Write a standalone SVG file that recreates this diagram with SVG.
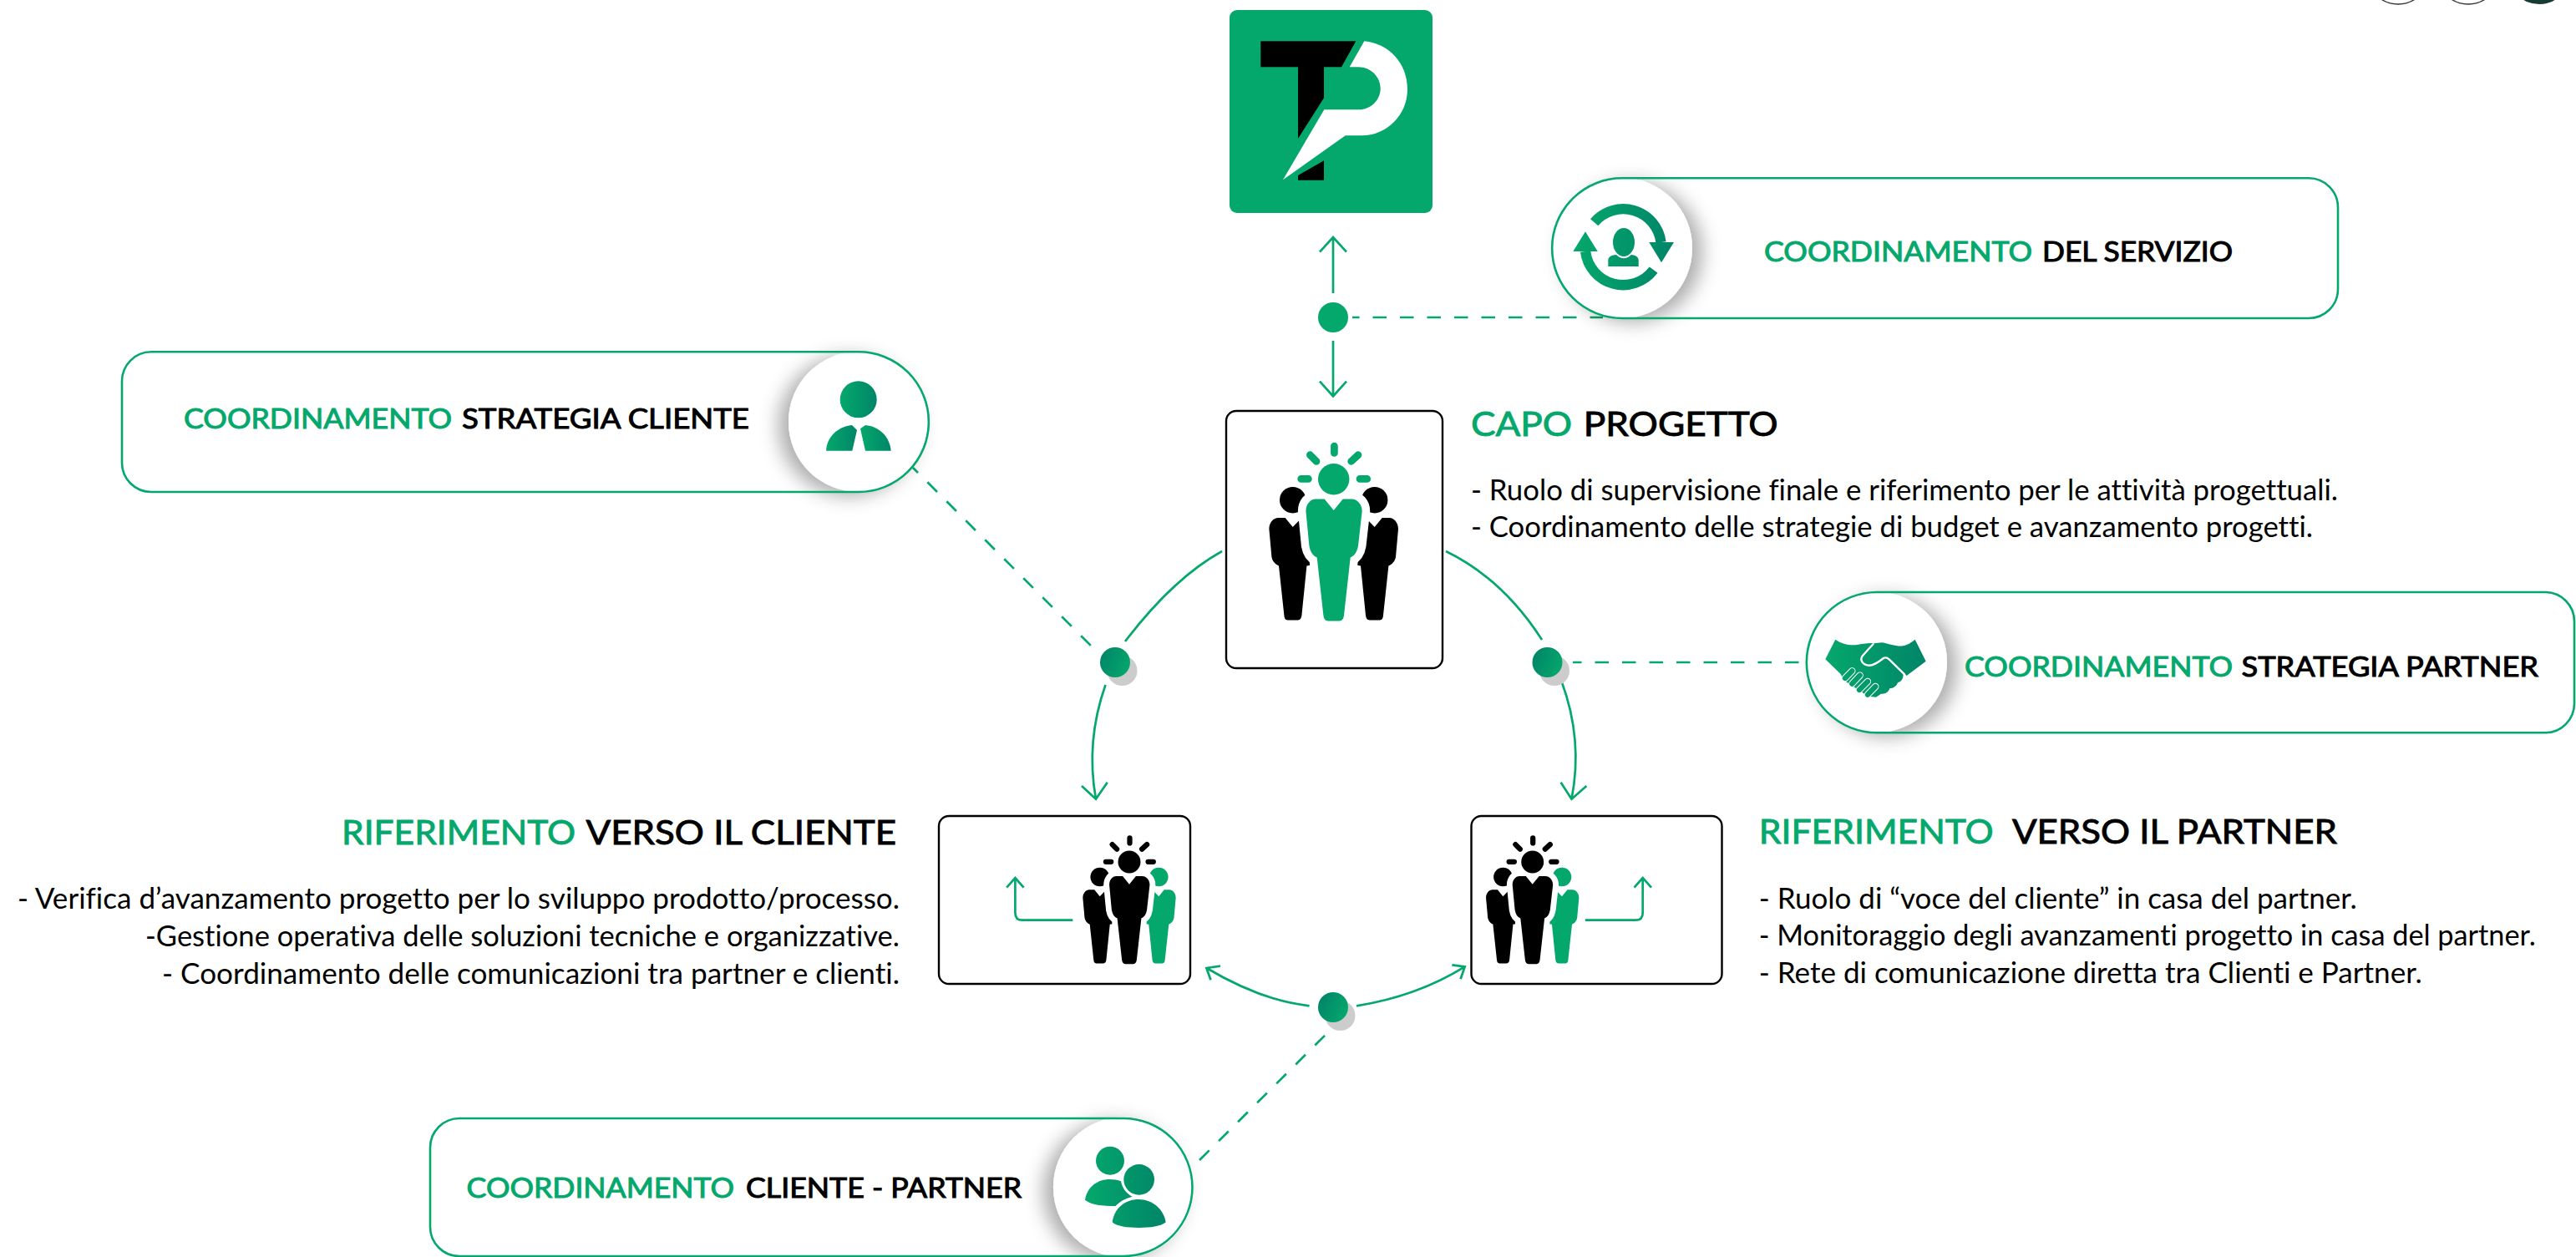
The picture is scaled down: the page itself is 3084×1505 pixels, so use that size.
<svg xmlns="http://www.w3.org/2000/svg" xmlns:xlink="http://www.w3.org/1999/xlink" width="3084" height="1505" viewBox="0 0 3084 1505">
<style>
text{font-family:"Lato","Noto Sans",sans-serif;fill:#000;font-variant-ligatures:none}
.g{fill:#05a86c}
.h{font-size:40px;font-weight:400;stroke-width:.9px;stroke:#000}
.h.g{stroke:#05a86c}
.l{font-size:32px;font-weight:400;stroke-width:1px;stroke:#000}
.l.g{stroke:#05a86c}
.b{font-size:35px;font-weight:400}
.box{fill:#fff;stroke:#000;stroke-width:2.4}
.pill{fill:none;stroke:#05a86c;stroke-width:2.6}
.disc{fill:#fff;filter:url(#sr)}
.discl{fill:#fff;filter:url(#sl)}
.c{fill:none;stroke:#05a86c;stroke-width:2.7}
.d{fill:none;stroke:#05a86c;stroke-width:2.7;stroke-dasharray:16.5 16}
.dot{fill:url(#dg)}
.sh{fill:#ccc}
.tc{fill:none;stroke:#333;stroke-width:1.4}
</style>
<defs>
<linearGradient id="dg" x1="0" y1=".3" x2="1" y2=".7"><stop offset="0" stop-color="#008568"/><stop offset="1" stop-color="#05a86c"/></linearGradient>
<linearGradient id="ig"><stop offset="0" stop-color="#05a86c"/><stop offset="1" stop-color="#008568"/></linearGradient>
<linearGradient id="i1" gradientUnits="userSpaceOnUse" x1="1883" y1="0" x2="2004" y2="0"><stop offset="0" stop-color="#05a86c"/><stop offset="1" stop-color="#008568"/></linearGradient>
<linearGradient id="i3" gradientUnits="userSpaceOnUse" x1="136" y1="0" x2="497" y2="0"><stop offset="0" stop-color="#05a86c"/><stop offset="1" stop-color="#008568"/></linearGradient>
<linearGradient id="i4" gradientUnits="userSpaceOnUse" x1="207" y1="0" x2="497" y2="0"><stop offset="0" stop-color="#05a86c"/><stop offset="1" stop-color="#008568"/></linearGradient>
<filter id="sr" x="-30%" y="-30%" width="160%" height="160%"><feDropShadow dx="12" dy="5" stdDeviation="11" flood-color="#000" flood-opacity=".32"/></filter>
<filter id="sl" x="-30%" y="-30%" width="160%" height="160%"><feDropShadow dx="-12" dy="5" stdDeviation="11" flood-color="#000" flood-opacity=".32"/></filter>
<g id="rays" fill="none" stroke-width="8.7" stroke-linecap="round">
<path d="M0.7,-39.7V-31.3M-39,-.3H-30.3M31.3,-.3H40M-28.3,-29L-20.7,-21.3M29.3,-29L21,-21.3"/>
</g>
<g id="side">
<circle cx="-49" cy="25" r="15.700"/>
<path d="M-77.3,59.7C-77.3,52-72,46.3-66.7,46.3H-58L-49,57.3L-41.7,49.7H-25V95L-28.3,103L-32.3,103.7L-38.3,163C-38.8,166.5-40,168.7-43,168.7H-55C-58,168.7-59,166.5-59.3,163L-65.7,103.7C-70,102-73.5,98-74.3,93Z"/>
</g>
<path id="body" stroke="#fff" stroke-width="19" paint-order="stroke" d="M-33.3,38C-33.3,30-28,23.7-21.7,23.7H-11L0,37.3L11,23.7H21.7C28,23.7,34,30,34,38L29.3,79.7C28,87,25,91.5,20,93.7L12.3,163C11.8,167,10,169.7,6.7,169.7H-6.7C-10,169.7-11.8,167-12.3,163L-20,93.7C-25,91.5-28,87-29.3,79.7Z"/>
</defs>
<rect width="3084" height="1505" fill="#fff"/>

<g id="top-controls">
<circle class="tc" cx="2871" cy="-32" r="37"/>
<circle class="tc" cx="2955" cy="-32" r="37"/>
<circle cx="3040" cy="-32" r="37" fill="#173b33"/>
</g>

<g id="connectors">
<path class="c" d="M1596,351V284M1580,301.7L1596,284L1612,301.7"/>
<path class="c" d="M1596,408V474M1580,456.7L1596,474.500L1612,456.7"/>
<path class="d" stroke-dashoffset="8" d="M1619,380H1919"/>
<path class="d" stroke-dashoffset="8" d="M1093,560L1312,779"/>
<path class="d" stroke-dashoffset="6" d="M1883,793H2163"/>
<path class="d" stroke-dashoffset="0" d="M1436,1389L1596,1230"/>
<path class="c" d="M1463,660Q1405,692 1347,768"/>
<path class="c" d="M1731,660Q1799,693 1846,766"/>
<path class="c" d="M1323.500,820Q1299.500,888 1312,956.700M1295,941L1312,956.700L1325.700,936.700"/>
<path class="c" d="M1869.500,815.700Q1895.500,886 1881.500,956.700M1868.600,936.700L1881.500,956.700L1899.400,941"/>
<path class="c" d="M1567.500,1204.300Q1510,1198 1444.400,1159M1461,1156.700L1444.400,1159L1449.500,1173.300"/>
<path class="c" d="M1624,1204.300Q1697,1192.600 1753.700,1157.300M1738.400,1155.300L1753.700,1157.300L1748.600,1172.300"/>
</g>

<g id="junctions">
<circle class="g" cx="1596" cy="380" r="18"/>
<circle class="sh" cx="1343.500" cy="803" r="18"/><circle class="dot" cx="1335" cy="793" r="18"/>
<circle class="sh" cx="1861" cy="803" r="18"/><circle class="dot" cx="1852.500" cy="793" r="18"/>
<circle class="sh" cx="1604.500" cy="1216" r="18"/><circle class="dot" cx="1596" cy="1206" r="18"/>
</g>

<g id="logo">
<rect x="1472" y="12" width="243" height="243" rx="9" fill="#05a86c"/>
<path fill="#000" d="M1509.300,49.300H1623.300L1606,80.300H1585V117.300L1554,166V80.300H1509.300Z"/>
<path fill="#000" d="M1585,192.300V215.700H1554V210Z"/>
<path fill="#fff" d="M1633.300,49.300C1663,52 1685,76 1685,106.700C1685,138 1660,162.300 1630,162.300H1610.700L1536,215.300L1585.300,131.300H1626.700C1641,131.300 1652.700,120 1652.700,106C1652.700,92 1641,80.300 1626.700,80.300H1615.700Z"/>
</g>

<g id="capo-progetto">
<rect class="box" x="1468" y="492" width="259" height="308" rx="12"/>
<g transform="translate(1596.700,573.700)">
<use href="#side" fill="#000"/><use href="#side" fill="#000" transform="scale(-1,1)"/>
<use href="#body" fill="#05a86c"/>
<circle r="18.700" fill="#05a86c"/>
<use href="#rays" stroke="#05a86c"/>
</g>
<text class="h g" x="1761" y="521.700" textLength="121" lengthAdjust="spacingAndGlyphs">CAPO</text>
<text class="h" x="1895.700" y="521.700" textLength="233" lengthAdjust="spacingAndGlyphs">PROGETTO</text>
<text class="b" x="1761" y="599.300" textLength="1038" lengthAdjust="spacingAndGlyphs">- Ruolo di supervisione finale e riferimento per le attività progettuali.</text>
<text class="b" x="1761" y="643.300" textLength="1008" lengthAdjust="spacingAndGlyphs">- Coordinamento delle strategie di budget e avanzamento progetti.</text>
</g>

<g id="riferimento-cliente">
<rect class="box" x="1124" y="977" width="301" height="201" rx="12"/>
<path class="c" d="M1284.300,1101.700H1224Q1215.400,1101.700 1215.400,1093V1052M1205.200,1062.700L1215.400,1051L1225.600,1062.700"/>
<g transform="translate(1352,1032) scale(.72)">
<use href="#side" fill="#000"/><use href="#side" fill="#05a86c" transform="scale(-1,1)"/>
<use href="#body" fill="#000"/>
<circle r="18.700" fill="#000"/>
<use href="#rays" stroke="#000"/>
</g>
<text class="h g" x="409" y="1010.700" textLength="280" lengthAdjust="spacingAndGlyphs">RIFERIMENTO</text>
<text class="h" x="701.500" y="1010.700" textLength="371.500" lengthAdjust="spacingAndGlyphs">VERSO IL CLIENTE</text>
<text class="b" x="21" y="1088" textLength="1056" lengthAdjust="spacingAndGlyphs">- Verifica d’avanzamento progetto per lo sviluppo prodotto/processo.</text>
<text class="b" x="174" y="1132.700" textLength="903" lengthAdjust="spacingAndGlyphs">-Gestione operativa delle soluzioni tecniche e organizzative.</text>
<text class="b" x="194" y="1177.500" textLength="883" lengthAdjust="spacingAndGlyphs">- Coordinamento delle comunicazioni tra partner e clienti.</text>
</g>

<g id="riferimento-partner">
<rect class="box" x="1761.500" y="977" width="300" height="201" rx="12"/>
<path class="c" d="M1897.800,1101.700H1958Q1966.700,1101.700 1966.700,1093V1052M1956.500,1062.700L1966.700,1051L1977,1062.700"/>
<g transform="translate(1834.700,1032) scale(.72)">
<use href="#side" fill="#000"/><use href="#side" fill="#05a86c" transform="scale(-1,1)"/>
<use href="#body" fill="#000"/>
<circle r="18.700" fill="#000"/>
<use href="#rays" stroke="#000"/>
</g>
<text class="h g" x="2105.800" y="1010" textLength="281" lengthAdjust="spacingAndGlyphs">RIFERIMENTO</text>
<text class="h" x="2408.900" y="1010" textLength="389" lengthAdjust="spacingAndGlyphs">VERSO IL PARTNER</text>
<text class="b" x="2105.800" y="1088.300" textLength="716" lengthAdjust="spacingAndGlyphs">- Ruolo di “voce del cliente” in casa del partner.</text>
<text class="b" x="2105.800" y="1132.300" textLength="930" lengthAdjust="spacingAndGlyphs">- Monitoraggio degli avanzamenti progetto in casa del partner.</text>
<text class="b" x="2105.800" y="1176.700" textLength="794" lengthAdjust="spacingAndGlyphs">- Rete di comunicazione diretta tra Clienti e Partner.</text>
</g>

<g id="coordinamento-servizio">
<circle class="disc" cx="1942" cy="297" r="84"/>
<path class="pill" d="M1942,213.300H2764A35,35 0 0 1 2799,248.300V346A35,35 0 0 1 2764,381H1942A83.850,83.850 0 0 1 1942,213.300Z"/>
<path fill="none" stroke="url(#i1)" stroke-width="12.300" d="M1908.700,266.200A45.500,45.500 0 0 1 1988.500,290M1979.600,323.100A45.500,45.500 0 0 1 1898.100,301"/>
<path fill="url(#i1)" d="M1974.300,290H2004L1989,314.300ZM1883.300,301H1912.700L1898,277.300Z"/>
<ellipse cx="1944" cy="290" rx="13" ry="17" fill="url(#i1)"/>
<path fill="url(#i1)" d="M1925.300,319V311.700C1925.300,307 1930,305.500 1935,305C1938,308 1941,309.300 1944,309.300C1947,309.300 1950,308 1952.700,305C1957,305.500 1961.700,307 1961.700,311.700V319Z"/>
<text class="l g" x="2112" y="313" textLength="321" lengthAdjust="spacingAndGlyphs">COORDINAMENTO</text>
<text class="l" x="2445" y="313" textLength="228" lengthAdjust="spacingAndGlyphs">DEL SERVIZIO</text>
</g>

<g id="coordinamento-strategia-cliente">
<circle class="discl" cx="1028" cy="505" r="84"/>
<path class="pill" d="M1028,421.300H181A35,35 0 0 0 146,456.300V554A35,35 0 0 0 181,589H1028A83.850,83.850 0 0 0 1028,421.300Z"/>
<circle cx="1027.700" cy="478.300" r="22" fill="url(#ig)"/>
<path fill="url(#ig)" d="M989,539.700C990,522 1004,510.500 1020,509L1026,515L1020.300,539.700Z"/>
<path fill="url(#ig)" d="M1030,513.300L1036,509C1052,510.500 1065,522 1066.700,539.700H1036Z"/>
<text class="l g" x="220" y="513" textLength="321" lengthAdjust="spacingAndGlyphs">COORDINAMENTO</text>
<text class="l" x="553" y="513" textLength="344" lengthAdjust="spacingAndGlyphs">STRATEGIA CLIENTE</text>
</g>

<g id="coordinamento-strategia-partner">
<circle class="disc" cx="2247" cy="793" r="84"/>
<path class="pill" d="M2247,709H3047A35,35 0 0 1 3082,744V842.300A35,35 0 0 1 3047,877.300H2247A84.150,84.150 0 0 1 2247,709Z"/>
<g transform="translate(2140,690) scale(.33333)">
<path fill="url(#i3)" d="M136,298L172,227C195,243 225,250 250,246C270,243 295,238 310,241L340,238C365,243 395,254 415,250C430,247 445,238 458,227L497,305L428,357L415,345C418,362 412,378 396,382C392,395 380,403 367,403C362,418 350,424 336,422L318,434L290,431L205,375L190,350Z"/>
<path fill="none" stroke="#fff" stroke-width="7" stroke-linejoin="round" stroke-linecap="round" d="M308,243L270,285C258,300 270,318 290,320C305,322 320,314 345,294C352,290 358,292 365,298L420,352"/>
<g fill="none" stroke="#fff" stroke-width="25" stroke-linecap="round"><path d="M207,366L232,340M232,386L260,356M258,408L288,378M288,425L316,396"/></g>
<g fill="none" stroke="url(#i3)" stroke-width="19" stroke-linecap="round"><path d="M207,366L232,340M232,386L260,356M258,408L288,378M288,425L316,396"/></g>
</g>
<text class="l g" x="2352" y="810" textLength="321" lengthAdjust="spacingAndGlyphs">COORDINAMENTO</text>
<text class="l" x="2683.500" y="810" textLength="355.500" lengthAdjust="spacingAndGlyphs">STRATEGIA PARTNER</text>
</g>

<g id="coordinamento-cliente-partner">
<circle class="discl" cx="1345" cy="1421.500" r="84"/>
<path class="pill" d="M1345,1339H550A35,35 0 0 0 515,1374V1469A35,35 0 0 0 550,1504H1345A82.500,82.500 0 0 0 1345,1339Z"/>
<g transform="translate(1230,1320) scale(.33333)">
<circle cx="297" cy="209" r="51" fill="url(#i4)"/>
<path fill="url(#i4)" d="M207,350C215,300 255,276 295,276C310,276 325,278 336,283C340,305 355,328 377,338C350,345 332,356 316,372C270,372 230,368 207,350Z"/>
<circle cx="401" cy="277" r="55" fill="url(#i4)"/>
<path fill="url(#i4)" d="M305,430C312,380 350,348 400,348C450,348 490,385 497,430C480,445 440,450 400,450C360,450 320,445 305,430Z"/>
</g>
<text class="l g" x="558.600" y="1434" textLength="320.400" lengthAdjust="spacingAndGlyphs">COORDINAMENTO</text>
<text class="l" x="893" y="1434" textLength="330" lengthAdjust="spacingAndGlyphs">CLIENTE - PARTNER</text>
</g>
</svg>
